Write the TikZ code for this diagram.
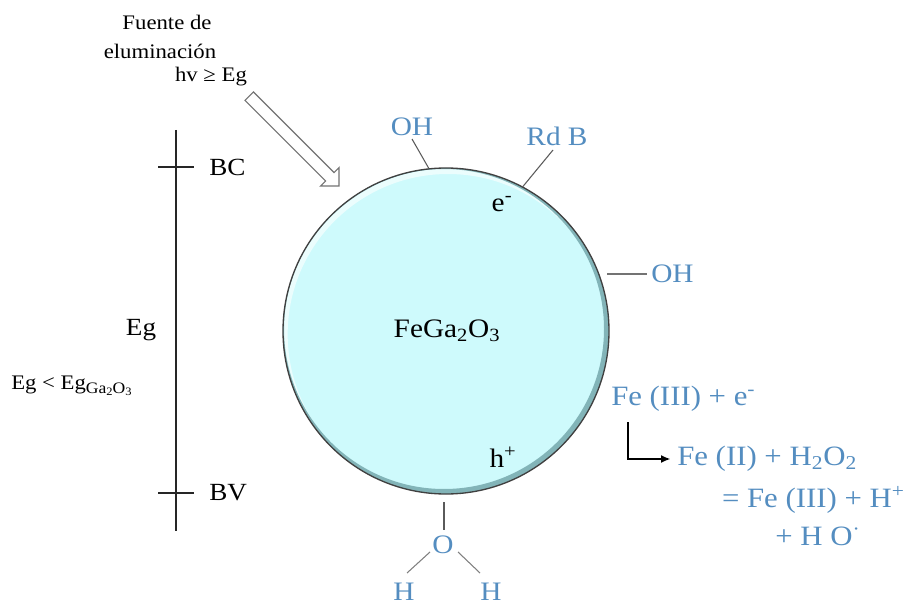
\documentclass[tikz,border=0pt]{standalone}
\usepackage{fontspec}
\setmainfont{Liberation Serif}[FakeStretch=1.1]
\usetikzlibrary{arrows.meta}
\definecolor{lblue}{RGB}{84,141,192}
\definecolor{ballfill}{RGB}{206,250,252}
\definecolor{rim}{RGB}{130,180,184}
\definecolor{bondgray}{RGB}{90,90,90}
\newcommand{\mysub}[1]{\raisebox{-0.4ex}{\fontsize{12}{13}\selectfont #1}}
\newcommand{\mysubsub}[1]{\raisebox{-0.3ex}{\fontsize{8.5}{9}\selectfont #1}}
\begin{document}
\begin{tikzpicture}[x=0.75pt,y=-0.75pt,
  fuente/.style={inner sep=0pt, font=\fontsize{15.5}{18}\selectfont},
  band/.style={inner sep=0pt, font=\fontsize{18.5}{22}\selectfont},
  blk/.style={inner sep=0pt, font=\fontsize{20}{24}\selectfont},
  blu/.style={inner sep=0pt, text=lblue, font=\fontsize{20}{24}\selectfont},
  blubig/.style={inner sep=0pt, text=lblue, font=\fontsize{21}{25}\selectfont},
  bond/.style={draw=bondgray, line width=0.8pt},
  axis/.style={draw=black!85, line width=1.4pt},
]
\useasboundingbox (0,0) rectangle (907,606);
% ---- particle ----
\node[circle, fill=ballfill, minimum size=244.5pt, inner sep=0pt] (ball) at (446,331) {};
\begin{scope}
  \clip (ball.center) circle (122.25pt);
  \draw[white, opacity=0.6, line width=4pt] ([shift={(1.5pt,-2.5pt)}]ball.center) circle (122.25pt);
  \draw[rim, line width=4.5pt] ([shift={(-1.5pt,1.5pt)}]ball.center) circle (122.25pt);
\end{scope}
\draw[black!75, line width=1pt] (ball.center) circle (122.25pt);
\node[blk] (core) at (447,331) {FeGa\textsubscript{2}O\textsubscript{3}};
\node[blk] (elec) at (502,204) {e\textsuperscript{-}};
\node[blk] (hole) at (503,457) {h\textsuperscript{+}};
% ---- band axis ----
\coordinate (axtop) at (176,130);
\coordinate (axbot) at (176,531);
\coordinate (bcl) at (158,167);
\coordinate (bcr) at (194,167);
\coordinate (bvl) at (158,493);
\coordinate (bvr) at (194,493);
\draw[axis] (axtop) -- (axbot);
\draw[axis] (bcl) -- (bcr);
\draw[axis] (bvl) -- (bvr);
\node[band, anchor=west] (bc) at (209,167) {BC};
\node[band, anchor=west] (bv) at (209,493) {BV};
\node[band] (eg) at (141,330) {Eg};
\node[inner sep=0pt, anchor=west, font=\fontsize{15.5}{18}\selectfont] (ineq) at (11,386) {Eg < Eg\mysub{Ga\mysubsub{2}O\mysubsub{3}}};
% ---- light source ----
\node[fuente] (f1) at (167,22) {Fuente de};
\node[fuente] (f2) at (160,51) {eluminación};
\node[fuente] (f3) at (211,77) {hv ≥ Eg};
\draw[draw=black!55, fill=white, line width=0.9pt]
  (245.0,100.4) -- (325.6,181.0) -- (320.6,186.0) -- (339,186) -- (339,167.6)
  -- (334.0,172.6) -- (253.4,92.0) -- cycle;
% ---- surface groups ----
\node[blu] (oh1) at (412,127) {OH};
\coordinate (oh1e) at (412,139);
\draw[bond] (ball.96.6) -- (oh1e);
\node[blu] (rdb) at (557,136) {Rd B};
\coordinate (rdbe) at (553,150);
\draw[bond] (ball.62.7) -- (rdbe);
\node[blu, anchor=west] (oh2) at (651,274) {OH};
\coordinate (oh2s) at (607,274);
\draw[draw=black!55, line width=1.4pt] (oh2s) -- ([xshift=-3pt]oh2.west);
% ---- water ----
\coordinate (wtop) at (444,502);
\node[blu] (ow) at (443,545) {O};
\node[blu] (hl) at (404,592) {H};
\node[blu] (hr) at (491,592) {H};
\coordinate (wo) at (444,530);
\draw[bond] (wtop) -- (wo);
\coordinate (bl1) at (430,552);
\coordinate (bl2) at (407,573);
\coordinate (br1) at (458,552);
\coordinate (br2) at (480,573);
\draw[bond, draw=black!50] (bl1) -- (bl2);
\draw[bond, draw=black!50] (br1) -- (br2);
% ---- Fenton ----
\node[blubig, anchor=west] (fe3) at (611,399) {Fe (III) + e\textsuperscript{-}};
\node[blubig, anchor=west] (fe2) at (677,459) {Fe (II) + H\textsubscript{2}O\textsubscript{2}};
\node[blubig, anchor=east] (eq) at (905,500) {= Fe (III) + H\textsuperscript{+}};
\node[blubig, anchor=west] (ho) at (775,536) {+ H O\textsuperscript{·}};
\coordinate (elb) at (628,422);
\draw[line width=1pt, -{Latex[length=7pt,width=6pt]}] (elb) |- ([xshift=-5pt]fe2.west);
\end{tikzpicture}
\end{document}
